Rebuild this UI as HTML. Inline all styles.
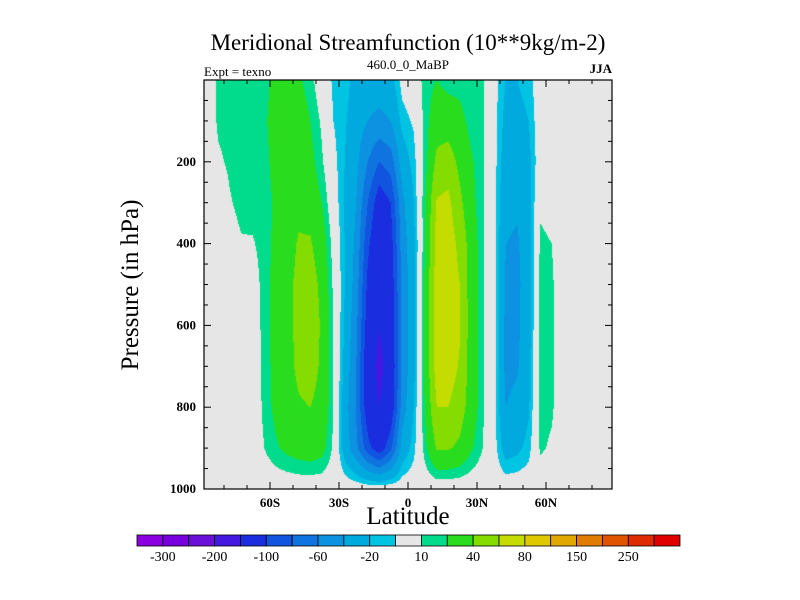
<!DOCTYPE html>
<html><head><meta charset="utf-8">
<style>
html,body{margin:0;padding:0;background:#fff;}
#wrap{position:relative;width:800px;height:600px;overflow:hidden;font-family:"Liberation Serif",serif;color:#000;}
.t{position:absolute;white-space:nowrap;}
</style></head>
<body>
<div id="wrap">
<div class="t" style="left:0;width:816px;top:30px;text-align:center;font-size:23px;">Meridional Streamfunction (10**9kg/m-2)</div>
<div class="t" style="left:204px;top:64px;font-size:13px;">Expt = texno</div>
<div class="t" style="left:308px;width:200px;top:57px;text-align:center;font-size:13px;">460.0_0_MaBP</div>
<div class="t" style="left:580px;width:32px;top:61px;text-align:right;font-size:13px;font-weight:bold;">JJA</div>
<div class="t" style="left:131px;top:285px;font-size:25px;transform:translate(-50%,-50%) rotate(-90deg);">Pressure (in hPa)</div>
<div class="t" style="left:308px;width:200px;top:503px;text-align:center;font-size:25px;">Latitude</div>
<canvas id="cv" width="800" height="600" style="position:absolute;left:0;top:0;"></canvas>
<svg id="ax" width="800" height="600" style="position:absolute;left:0;top:0;"></svg>
</div>
<script>
// ---- data ----
const lats = [-87.5,-82.5,-77.5,-72.5,-67.5,-62.5,-57.5,-52.5,-47.5,-42.5,-37.5,-32.5,-27.5,-22.5,-17.5,-12.5,-7.5,-2.5,2.5,7.5,12.5,17.5,22.5,27.5,32.5,37.5,42.5,47.5,52.5,57.5,62.5,67.5,72.5,77.5,82.5,87.5];
const pressures = [0,100,200,300,400,500,600,700,800,900,1000];
const values = [
[0,0,0,0,0,0,0,0,0,0,0],
[12,12,8,0,0,0,0,0,0,0,0],
[14,14,12,9,5,2,0,0,0,0,0],
[16,16,15,13,9,3,0,0,0,0,0],
[16,17,16,14,9,4,2,0,0,0,0],
[16,18,16,15,14,14,14,14,13,10,0],
[24,26,25,22,24,26,26,25,24,18,0],
[25,30,30,30,32,35,35,34,32,24,0],
[22,28,30,35,42,45,45,44,38,28,0],
[15,20,25,32,42,48,50,48,40,30,0],
[0,8,12,20,30,36,38,37,34,26,0],
[-12,-10,-5,0,5,8,10,10,10,8,0],
[-15,-18,-20,-22,-20,-20,-22,-25,-30,-28,0],
[-25,-30,-35,-40,-45,-50,-55,-60,-62,-55,0],
[-30,-40,-60,-80,-95,-105,-112,-120,-115,-92,0],
[-30,-45,-80,-115,-125,-135,-148,-165,-150,-115,0],
[-25,-40,-70,-100,-110,-115,-118,-122,-118,-85,0],
[-5,-15,-30,-45,-50,-55,-55,-55,-50,-32,0],
[0,-8,-15,-20,-25,-25,-25,-25,-20,-14,0],
[15,15,15,20,20,25,25,25,22,16,0],
[20,30,45,62,68,70,72,70,60,42,0],
[15,30,50,65,70,72,72,70,60,42,0],
[15,25,35,45,55,60,62,58,50,36,0],
[12,15,22,25,30,30,30,30,30,22,0],
[12,12,12,12,12,12,12,12,12,10,0],
[-5,-5,-5,-5,-5,-5,-5,-5,-5,-5,0],
[-20,-25,-30,-35,-40,-42,-45,-45,-40,-28,0],
[-20,-25,-30,-38,-42,-44,-44,-42,-35,-24,0],
[-15,-20,-25,-28,-30,-30,-28,-25,-22,-15,0],
[0,0,0,8,12,15,15,15,14,12,0],
[0,0,0,6,10,12,12,12,12,8,0],
[0,0,0,0,0,0,0,0,0,0,0],
[0,0,0,0,0,0,0,0,0,0,0],
[0,0,0,0,0,0,0,0,0,0,0],
[0,0,0,0,0,0,0,0,0,0,0],
[0,0,0,0,0,0,0,0,0,0,0]
];
const levels = [-300,-250,-200,-150,-100,-80,-60,-40,-20,-10,10,20,40,60,80,100,150,200,250,300];
const colorbarLabels = ["-300","-200","-100","-60","-20","10","40","80","150","250"];
const colors = ["#8a00e0","#7800dc","#6a10d8","#4418e0","#1a2ee0","#1054e0","#1074e0","#0c92e0","#00aade","#00c4e2","#e6e6e6","#00dc8c","#2adc1e","#84dc00","#c4dc00","#e0c800","#e0a800","#e07c00","#e05400","#e02a00","#e00000"];
const yTicks = [200,400,600,800,1000];
const xTickVals = [-60,-30,0,30,60];
const xTickLabels = ["60S","30S","0","30N","60N"];

// ---- axes ----
const X0=204,X1=612,Y0=80,Y1=489,LATMIN=-88.7,LATMAX=88.7;
const xs = lat => X0+(lat-LATMIN)/(LATMAX-LATMIN)*(X1-X0);
const ys = p => Y0+p/1000*(Y1-Y0);
const latOf = x => LATMIN+(x-X0)/(X1-X0)*(LATMAX-LATMIN);
const pOf = y => (y-Y0)/(Y1-Y0)*1000;
function colorFor(v){let i=0;while(i<levels.length&&v>=levels[i])i++;return colors[i];}
function sample(lat,p){
  let i=0; if(lat<=lats[0]){i=0;} else if(lat>=lats[lats.length-1]){i=lats.length-2;} else {while(lats[i+1]<lat)i++;}
  let tx=Math.max(0,Math.min(1,(lat-lats[i])/(lats[i+1]-lats[i])));
  let j=0; while(j<pressures.length-2&&pressures[j+1]<p)j++;
  let ty=Math.max(0,Math.min(1,(p-pressures[j])/(pressures[j+1]-pressures[j])));
  const a=values[i][j],b=values[i+1][j],c=values[i][j+1],d=values[i+1][j+1];
  return a*(1-tx)*(1-ty)+b*tx*(1-ty)+c*(1-tx)*ty+d*tx*ty;
}
const ctx=document.getElementById('cv').getContext('2d');
for(let x=X0;x<X1;x++){for(let y=Y0;y<Y1;y++){ctx.fillStyle=colorFor(sample(latOf(x+0.5),pOf(y+0.5)));ctx.fillRect(x,y,1,1);}}

const NS='http://www.w3.org/2000/svg';
const svg=document.getElementById('ax');
function mk(tag,attrs,name){const e=document.createElementNS(NS,tag);for(const k in attrs)e.setAttribute(k,attrs[k]);


svg.appendChild(e);return e;}
mk('rect',{x:X0,y:Y0,width:X1-X0,height:Y1-Y0,fill:'none',stroke:'#000','stroke-width':1.2},'plot-frame');
for(let p=50;p<1000;p+=50){const y=ys(p);const L=(p%200===0)?7:4;
 mk('line',{x1:X0,x2:X0+L,y1:y,y2:y,stroke:'#000'},'y-tick');
 mk('line',{x1:X1,x2:X1-L,y1:y,y2:y,stroke:'#000'},'y-tick-right');}
for(let lat=-80;lat<=80;lat+=10){const x=xs(lat);const L=(lat%30===0)?7:4;
 mk('line',{x1:x,x2:x,y1:Y1,y2:Y1-L,stroke:'#000'},'x-tick');
 mk('line',{x1:x,x2:x,y1:Y0,y2:Y0+L,stroke:'#000'},'x-tick-top');}
yTicks.forEach(p=>{const t=mk('text',{x:X0-8,y:ys(p)+4,'text-anchor':'end','font-family':'Liberation Serif, serif','font-size':13,'font-weight':'bold'},'y-tick-label');t.textContent=String(p);});
xTickVals.forEach((v,k)=>{const t=mk('text',{x:xs(v),y:Y1+18,'text-anchor':'middle','font-family':'Liberation Serif, serif','font-size':13,'font-weight':'bold'},'x-tick-label');t.textContent=xTickLabels[k];});
// colorbar
const CB0=137,CB1=680,CBY=535,CBH=11,bw=(CB1-CB0)/colors.length;
colors.forEach((c,k)=>{mk('rect',{x:CB0+k*bw,y:CBY,width:bw,height:CBH,fill:c,stroke:'#000','stroke-width':0.8},'colorbar-box');});
colorbarLabels.forEach((s,k)=>{const idx=levels.indexOf(Number(s));const t=mk('text',{x:CB0+(idx+1)*bw,y:CBY+CBH+15,'text-anchor':'middle','font-family':'Liberation Serif, serif','font-size':14},'colorbar-label');t.textContent=s;});
</script>
</body></html>
